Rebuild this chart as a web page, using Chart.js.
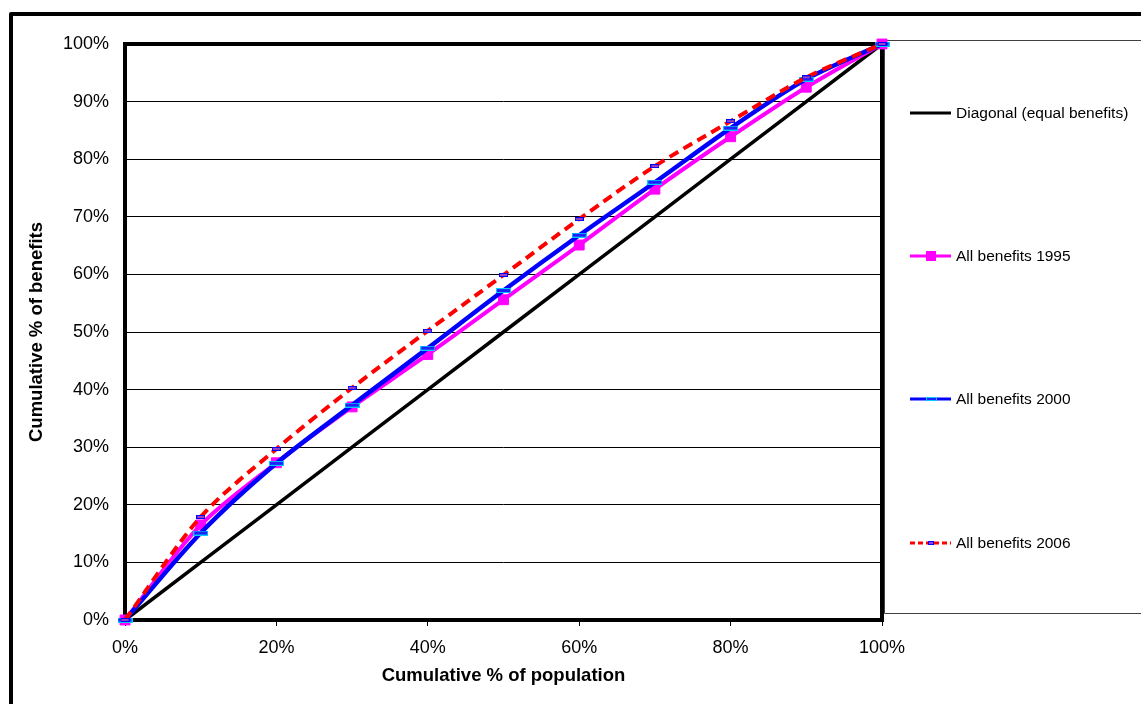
<!DOCTYPE html>
<html>
<head>
<meta charset="utf-8">
<title>Cumulative distribution of benefits</title>
<script src="https://cdn.jsdelivr.net/npm/chart.js@4.4.1/dist/chart.umd.min.js"></script>
<style>
  html, body { margin: 0; padding: 0; background: #fff; overflow: hidden; }
  canvas { display: block; }
</style>
</head>
<body>
<canvas id="lorenz" width="1141" height="704"></canvas>
<script>
// Cumulative % of population (x) and cumulative % of benefits (y)
const population = [0, 10, 20, 30, 40, 50, 60, 70, 80, 90, 100];
const diagonal   = [0, 10, 20, 30, 40, 50, 60, 70, 80, 90, 100];
const benefits1995 = [0, 16.5, 27.3, 37.0, 46.1, 55.6, 65.1, 74.8, 83.9, 92.5, 100];
const benefits2000 = [0, 15.1, 27.2, 37.3, 47.2, 57.2, 66.8, 76.0, 85.4, 93.9, 100];
const benefits2006 = [0, 17.9, 29.7, 40.3, 50.2, 59.9, 69.6, 78.8, 86.6, 94.2, 100];

const seriesNames = ['Diagonal (equal benefits)', 'All benefits 1995', 'All benefits 2000', 'All benefits 2006'];
const xTickStep = 20;
const yTickStep = 10;

const FONT = '"Liberation Sans", Arial, Helvetica, sans-serif';
Chart.defaults.font.family = FONT;
Chart.defaults.color = '#000';

// Small rectangular "dash" markers
function dashMarker(w, h, stroke, fill) {
  const c = document.createElement('canvas');
  c.width = w; c.height = h;
  const g = c.getContext('2d');
  g.fillStyle = stroke;
  g.fillRect(0, 0, w, h);
  g.fillStyle = fill;
  g.fillRect(1, 1, w - 2, h - 2);
  return c;
}
const marker2000 = dashMarker(15, 5, '#00ccff', '#2020ff');
const marker2006 = dashMarker(9, 4, '#0000ff', '#a040c0');
const legend2000 = dashMarker(11, 4, '#00ccff', '#2020ff');
const legend2006 = dashMarker(6, 4, '#0000ff', '#a040c0');

const toPoints = ys => population.map((x, i) => ({ x: x, y: ys[i] }));

// Frame, plot border and the boxed legend on the right
const decorations = {
  id: 'decorations',
  beforeDraw(chart) {
    const ctx = chart.ctx;
    ctx.save();
    ctx.fillStyle = '#fff';
    ctx.fillRect(0, 0, chart.width, chart.height);
    ctx.strokeStyle = '#000';
    ctx.lineWidth = 4;
    ctx.lineJoin = 'round';
    ctx.beginPath();
    ctx.moveTo(11, chart.height + 10);
    ctx.lineTo(11, 14);
    ctx.lineTo(chart.width + 10, 14);
    ctx.stroke();
    ctx.lineWidth = 1;
    ctx.strokeStyle = '#404040';
    ctx.strokeRect(884.5, 40.5, 400, 573);
    ctx.restore();
  },
  beforeDatasetsDraw(chart) {
    const { left, top, right, bottom } = chart.chartArea;
    const ctx = chart.ctx;
    ctx.save();
    ctx.strokeStyle = '#000';
    ctx.lineWidth = 4;
    ctx.strokeRect(left, top, right - left, bottom - top);
    ctx.restore();
  },
  afterDraw(chart) {
    const ctx = chart.ctx;
    const rows = [113, 256, 399, 543];
    const legendMarks = [null, 'square', legend2000, legend2006];
    ctx.save();
    chart.data.datasets.forEach((ds, i) => {
      const y = rows[i];
      ctx.strokeStyle = ds.borderColor;
      ctx.lineWidth = 3;
      ctx.setLineDash(ds.borderDash ? [5, 3] : []);
      ctx.beginPath();
      ctx.moveTo(910, y);
      ctx.lineTo(951, y);
      ctx.stroke();
      ctx.setLineDash([]);
      const m = legendMarks[i];
      if (m === 'square') {
        ctx.fillStyle = ds.pointBackgroundColor;
        ctx.fillRect(926, y - 5, 10, 10);
      } else if (m) {
        ctx.drawImage(m, Math.round(931 - m.width / 2), Math.round(y - m.height / 2));
      }
      ctx.fillStyle = '#000';
      ctx.font = '15.5px ' + FONT;
      ctx.textBaseline = 'middle';
      ctx.textAlign = 'left';
      ctx.fillText(ds.label, 956, y + 1);
    });
    ctx.restore();
  }
};

new Chart(document.getElementById('lorenz'), {
  type: 'line',
  data: {
    datasets: [
      {
        label: seriesNames[0],
        data: toPoints(diagonal),
        borderColor: '#000000',
        borderWidth: 3.5,
        pointRadius: 0,
        tension: 0,
        order: 4,
        clip: false
      },
      {
        label: seriesNames[1],
        data: toPoints(benefits1995),
        borderColor: '#ff00ff',
        borderWidth: 4,
        pointStyle: 'rect',
        pointRadius: 7,
        pointBorderWidth: 1,
        pointBackgroundColor: '#ff00ff',
        pointBorderColor: '#ff00ff',
        tension: 0.3,
        order: 3,
        clip: false
      },
      {
        label: seriesNames[2],
        data: toPoints(benefits2000),
        borderColor: '#0000ff',
        borderWidth: 4.5,
        pointStyle: marker2000,
        pointRadius: 5,
        tension: 0.3,
        order: 2,
        clip: false
      },
      {
        label: seriesNames[3],
        data: toPoints(benefits2006),
        borderColor: '#ff0000',
        borderWidth: 4,
        borderDash: [10, 6],
        borderCapStyle: 'butt',
        pointStyle: marker2006,
        pointRadius: 5,
        tension: 0.3,
        order: 1,
        clip: false
      }
    ]
  },
  options: {
    responsive: false,
    animation: false,
    events: [],
    layout: { padding: { left: 0, top: 44, right: 259, bottom: 0 } },
    plugins: {
      legend: { display: false },
      tooltip: { enabled: false }
    },
    scales: {
      x: {
        type: 'linear',
        min: 0,
        max: 100,
        border: { display: false },
        grid: {
          drawOnChartArea: false,
          drawTicks: true,
          tickLength: 6,
          color: '#000',
          lineWidth: 1
        },
        ticks: {
          stepSize: xTickStep,
          padding: 11,
          font: { size: 18 },
          maxRotation: 0,
          callback: v => v + '%'
        },
        title: {
          display: true,
          text: 'Cumulative % of population',
          font: { size: 18.5, weight: 'bold' },
          padding: { top: 0, bottom: 17 }
        },
        afterFit(scale) { scale.height = 84; }
      },
      y: {
        type: 'linear',
        min: 0,
        max: 100,
        border: { display: false },
        grid: {
          drawTicks: false,
          color: '#000',
          lineWidth: 1
        },
        ticks: {
          stepSize: yTickStep,
          padding: 16,
          font: { size: 18 },
          callback: v => v + '%'
        },
        title: {
          display: true,
          text: 'Cumulative % of benefits',
          font: { size: 18.5, weight: 'bold' },
          padding: { top: 26, bottom: 0 }
        },
        afterFit(scale) { scale.width = 125; }
      }
    }
  },
  plugins: [decorations]
});
</script>
</body>
</html>
